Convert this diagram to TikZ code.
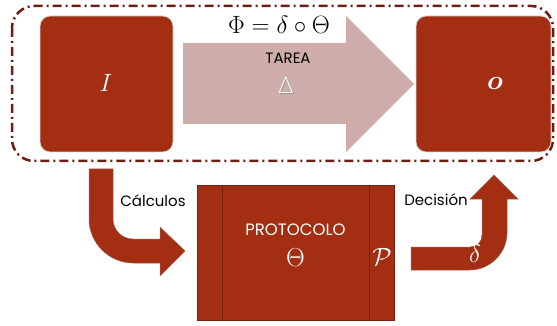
\RequirePackage{fix-cm}
\documentclass[tikz,border=0pt]{standalone}
\usepackage{bm}
\usepackage{fontspec}
\newfontfamily\pop{Poppins}
\IfFontExistsTF{Lato Light}{\newfontfamily\grk{Lato Light}}{\newfontfamily\grk{Lato}}
\definecolor{rust}{RGB}{164,46,18}
\definecolor{rustdark}{RGB}{118,34,14}
\definecolor{frame}{RGB}{110,30,16}
\definecolor{pinkish}{RGB}{206,173,170}
\tikzset{
  block/.style={draw=black!15, line width=0.8pt, fill=rust, rounded corners=10pt, inner sep=0pt},
  bigarrow/.style={fill=pinkish, draw=none},
  bentarrow/.style={fill=rust, draw=rustdark!70, line width=0.5pt},
  label/.style={font=\pop\fontsize{15}{16}\selectfont, inner sep=0pt},
  mathw/.style={text=white, inner sep=0pt}
}
\begin{document}
\begin{tikzpicture}[x=1pt,y=-1pt]
\useasboundingbox (0,0) rectangle (557,326);

% dash-dot frame around the task
\draw[frame, line width=2.5pt, rounded corners=22pt,
      dash pattern=on 9pt off 4pt on 2pt off 4pt]
  (12,6) rectangle (553,161);

% input and output blocks
\node[block, minimum width=133pt, minimum height=136pt] (in) at (106.5,84) {};
\node[block, minimum width=135pt, minimum height=136pt] (out) at (483.5,84) {};
\node[mathw, font=\fontsize{25}{26}\selectfont] (ilbl) at (106,83) {$I$};
\node[mathw, font=\fontsize{27}{28}\selectfont] (olbl) at (495,84) {$\bm{o}$};

% task arrow
\fill[bigarrow] (183,43) -- (346,43) -- (346,16) -- (414,84) -- (346,152)
  -- (346,124) -- (183,124) -- cycle;
\node[label] (tarea) at (288,58) {TAREA};
\node[text=black!40, inner sep=0pt, font=\grk\fontsize{23}{24}\selectfont] (deltash) at (286.8,86.2) {Δ};
\node[text=white, inner sep=0pt, font=\grk\fontsize{23}{24}\selectfont] (delta) at (286,85) {Δ};
\node[inner sep=0pt, font=\fontsize{25}{26}\selectfont] (phi) at (279,25) {$\Phi = \delta \circ \Theta$};

% protocol block
\node[draw=rustdark, line width=1pt, fill=rust, minimum width=197pt,
      minimum height=135pt, inner sep=0pt] (prot) at (295.5,252.5) {};
\draw[rustdark, line width=1pt] (222,185) -- (222,320);
\draw[rustdark, line width=1pt] (369,185) -- (369,320);
\node[label, text=white, font=\pop\fontsize{16.5}{18}\selectfont] (protlbl) at (295.5,229.5) {PROTOCOLO};
\node[mathw, font=\fontsize{26}{27}\selectfont] (theta) at (295.5,258) {$\Theta$};
\node[mathw, font=\fontsize{25}{26}\selectfont] (P) at (382,257) {$\mathcal{P}$};

% bent arrow: calculations
\filldraw[bentarrow] (89,169) -- (113,169) -- (113,219)
  .. controls (113,230) and (122,239) .. (133,239)
  -- (160,239) -- (160,227) -- (185,251) -- (160,276) -- (160,263)
  -- (133,263)
  .. controls (109,263) and (89,243) .. (89,219) -- cycle;
\node[label] (calc) at (153,201) {Cálculos};

% bent arrow: decision
\filldraw[bentarrow] (411,247) -- (470,247)
  .. controls (477,247) and (482,242) .. (482,235)
  -- (482,199) -- (470,199) -- (494,175) -- (518,199) -- (507,199)
  -- (507,233)
  .. controls (507,253) and (490,270) .. (470,270)
  -- (411,270) -- cycle;
\node[label] (dec) at (436,200) {Decisión};
\node[mathw, font=\fontsize{25}{26}\selectfont] (d) at (475,254) {$\delta$};
\end{tikzpicture}
\end{document}
